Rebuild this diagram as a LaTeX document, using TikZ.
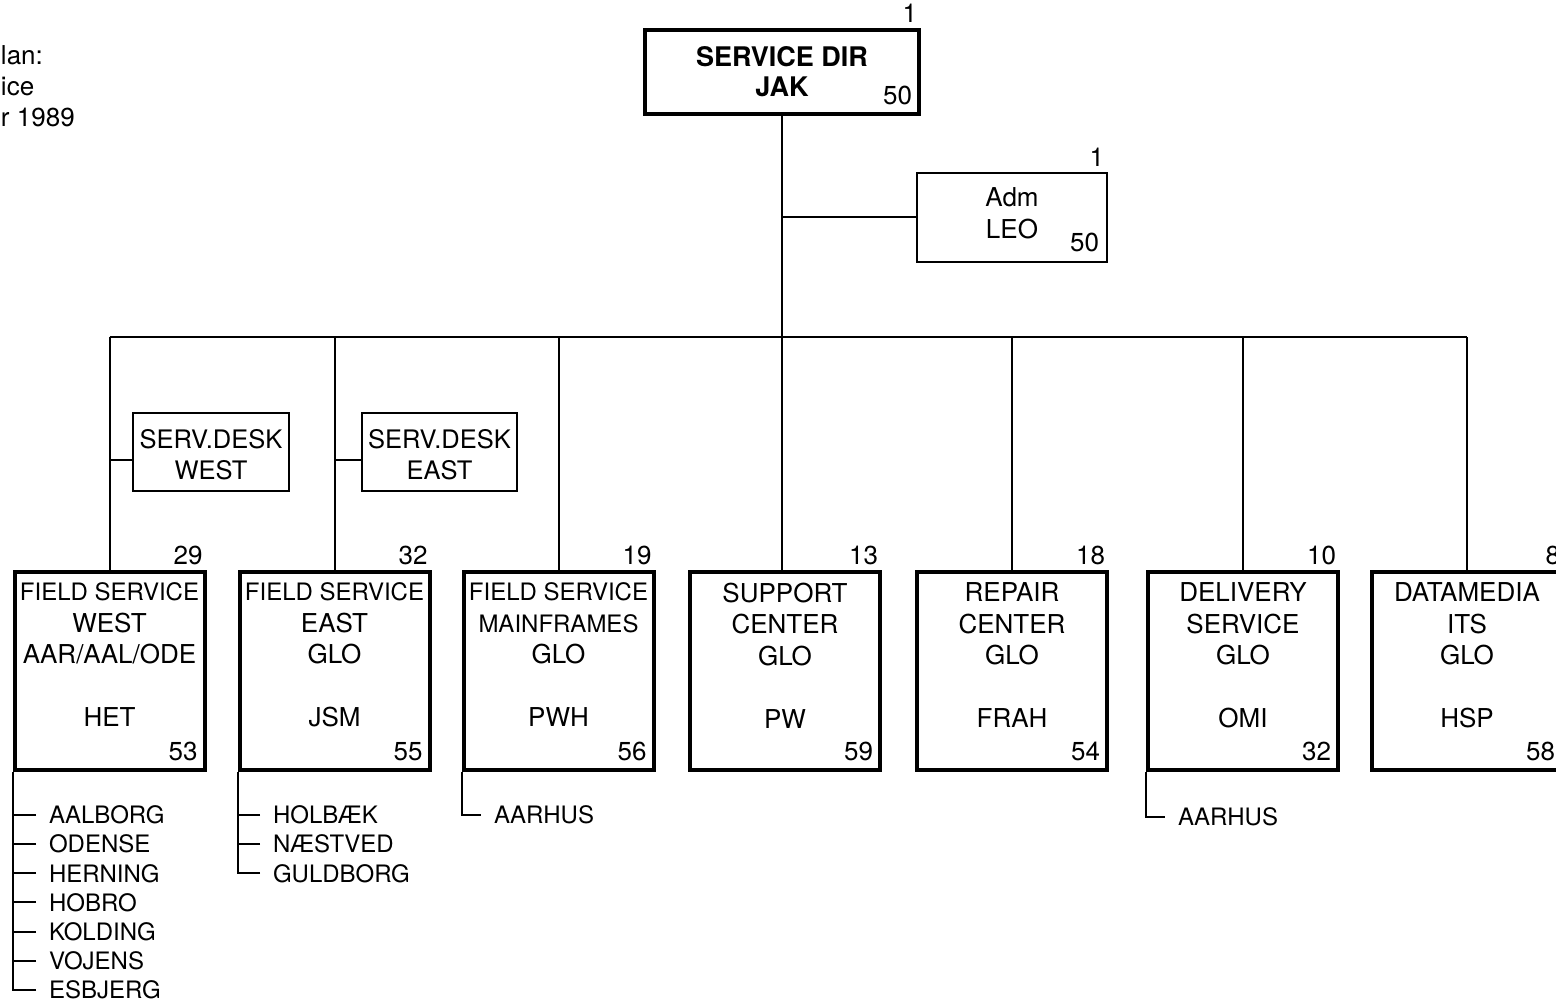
\documentclass[tikz,border=0pt]{standalone}
\usepackage{fontspec}
\setmainfont{TeX Gyre Heros}
\newcommand\fsnarrow{\fontsize{24pt}{31.5pt}\selectfont}

\begin{document}
\begin{tikzpicture}[x=1pt,y=-1pt,line width=2pt,
  unitbox/.style={draw,line width=4pt,minimum width=190pt,minimum height=198pt,inner sep=0pt},
  smallbox/.style={draw,line width=2pt,align=center,inner sep=0pt},
  words/.style={anchor=north,align=center,inner sep=0pt,font=\fontsize{26pt}{31.5pt}\selectfont},
  hinum/.style={anchor=south east,inner xsep=3pt,inner ysep=4pt,font=\fontsize{26pt}{30pt}\selectfont},
  lonum/.style={anchor=south east,inner xsep=8pt,inner ysep=10pt,font=\fontsize{26pt}{30pt}\selectfont},
  town/.style={anchor=west,inner xsep=12pt,inner ysep=0pt,font=\fontsize{24pt}{29pt}\selectfont}]
  \useasboundingbox (0,0) rectangle (1556,1003);
  \node[anchor=north west,align=left,inner sep=0pt,font=\fontsize{26pt}{31pt}\selectfont] (plan) at (0,45) {lan:\\ice\\r 1989};

  \node[draw,line width=4pt,minimum width=274pt,minimum height=84pt,align=center,inner sep=0pt,
    font=\bfseries\fontsize{27pt}{30pt}\selectfont] (dir) at (782,72) {SERVICE DIR\\JAK};
  \node[hinum] (dir-hi) at (dir.north east) {1};
  \node[lonum] (dir-lo) at (dir.south east) {50};

  \node[smallbox,minimum width=190pt,minimum height=89pt,font=\fontsize{26pt}{32pt}\selectfont] (adm) at (1012,217.5) {Adm\\LEO\\[-24pt]};
  \node[hinum] (adm-hi) at (adm.north east) {1};
  \node[lonum] (adm-lo) at (adm.south east) {50};

  \coordinate (bus) at (0,337);
  \foreach \u/\ux/\hi/\lo in {fsw/109.5/29/53,fse/334.5/32/55,fsm/558.5/19/56,sup/785/13/59,
      rep/1012/18/54,del/1243/10/32,dat/1467/8/58}{
    \node[unitbox] (\u) at (\ux,671) {};
    \node[hinum] (\u-hi) at (\u.north east) {\hi};
    \node[lonum] (\u-lo) at (\u.south east) {\lo};
  }
  \foreach \u in {fsw,fse,fsm,rep,del,dat}
    \draw (\u.north) -- (\u.north |- bus);
  \node[words] (fsw-t) at ([yshift=-12pt]fsw.north) {{\fsnarrow FIELD SERVICE}\\WEST\\AAR/AAL/ODE\\[31.5pt]HET};
  \node[words] (fse-t) at ([yshift=-12pt]fse.north) {{\fsnarrow FIELD SERVICE}\\EAST\\GLO\\[31.5pt]JSM};
  \node[words] (fsm-t) at ([yshift=-12pt]fsm.north) {{\fsnarrow FIELD SERVICE}\\{\fsnarrow MAINFRAMES}\\GLO\\[31.5pt]PWH};
  \node[words] (sup-t) at ([yshift=-12pt]sup.north) {SUPPORT\\CENTER\\GLO\\[31.5pt]PW};
  \node[words] (rep-t) at ([yshift=-12pt]rep.north) {REPAIR\\CENTER\\GLO\\[31.5pt]FRAH};
  \node[words] (del-t) at ([yshift=-12pt]del.north) {DELIVERY\\SERVICE\\GLO\\[31.5pt]OMI};
  \node[words] (dat-t) at ([yshift=-12pt]dat.north) {DATAMEDIA\\ITS\\GLO\\[31.5pt]HSP};

  \draw (dir.south) -- (dir.south |- sup.north);
  \draw (fsw.north |- bus) -- (dat.north |- bus);
  \draw (adm.west) -- (adm.west -| dir.south);

  \node[smallbox,minimum width=156pt,minimum height=78pt,font=\fontsize{25.5pt}{31pt}\selectfont] (sdw) at (211,452) {\\[-6pt]SERV.DESK\\WEST};
  \node[smallbox,minimum width=155pt,minimum height=78pt,font=\fontsize{25.5pt}{31pt}\selectfont] (sde) at (439.5,452) {\\[-6pt]SERV.DESK\\EAST};
  \draw ([yshift=-8pt]sdw.west) -- ([yshift=-8pt]sdw.west -| fsw.north);
  \draw ([yshift=-8pt]sde.west) -- ([yshift=-8pt]sde.west -| fse.north);

  % local offices
  \foreach \t [count=\i] in {AALBORG,ODENSE,HERNING,HOBRO,KOLDING,VOJENS,ESBJERG}{
    \node[town] (w\i) at (36,{785.8+29.17*\i}) {\t};
    \draw (w\i.west) -- (w\i.west -| fsw.south west);
  }
  \draw (fsw.south west) |- (w7.west);
  \foreach \t [count=\i] in {HOLBÆK,NÆSTVED,GULDBORG}{
    \node[town] (e\i) at (260,{785.8+29.17*\i}) {\t};
    \draw (e\i.west) -- (e\i.west -| fse.south west);
  }
  \draw (fse.south west) |- (e3.west);
  \node[town] (m1) at (481,815) {AARHUS};
  \draw (fsm.south west) |- (m1.west);
  \node[town] (d1) at (1165,817) {AARHUS};
  \draw (del.south west) |- (d1.west);
\end{tikzpicture}
\end{document}
